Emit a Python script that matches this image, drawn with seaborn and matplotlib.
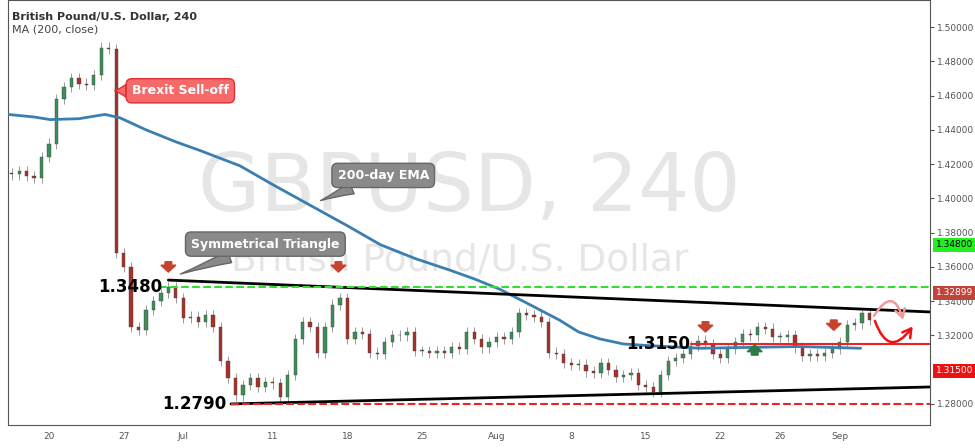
import numpy as np
import pandas as pd
import seaborn as sns
import matplotlib.pyplot as plt
from matplotlib.patches import FancyArrow

# 数据：半日K线收盘价（交易日序号，0 = 6月20日）
closes = [1.414, 1.416, 1.413, 1.412, 1.424, 1.432, 1.458, 1.465, 1.470, 1.467,
          1.466, 1.472, 1.488, 1.487, 1.368, 1.360, 1.325, 1.323, 1.335, 1.340,
          1.345, 1.348, 1.342, 1.330, 1.331, 1.328, 1.332, 1.325, 1.305, 1.295,
          1.285, 1.291, 1.295, 1.290, 1.293, 1.292, 1.284, 1.297, 1.318, 1.328,
          1.325, 1.310, 1.325, 1.338, 1.342, 1.318, 1.322, 1.321, 1.310, 1.309,
          1.316, 1.320, 1.320, 1.322, 1.311, 1.311, 1.310, 1.311, 1.310, 1.313,
          1.312, 1.322, 1.318, 1.313, 1.316, 1.319, 1.318, 1.322, 1.333, 1.332,
          1.331, 1.328, 1.310, 1.309, 1.304, 1.303, 1.303, 1.299, 1.298, 1.304,
          1.300, 1.296, 1.297, 1.298, 1.291, 1.290, 1.287, 1.297, 1.305, 1.307,
          1.309, 1.314, 1.317, 1.315, 1.309, 1.307, 1.312, 1.316, 1.321, 1.320,
          1.325, 1.324, 1.319, 1.319, 1.320, 1.313, 1.308, 1.309, 1.308, 1.310,
          1.312, 1.316, 1.326, 1.327, 1.333, 1.329]
first_open = 1.415
start_day = -2.5

ma_days = [-2.75, -1.0, 0.07, 2.0, 3.75, 4.76, 6.5, 8.5, 10.1, 12.8, 15.0, 17.5,
           20.0, 22.2, 24.5, 26.9, 28.5, 30.2, 32.0, 34.2, 35.5, 36.9, 38.5, 40.3,
           43.6, 47.0, 50.3, 54.4]
ma_vals = [1.449, 1.4475, 1.446, 1.4465, 1.449, 1.447, 1.440, 1.433, 1.428, 1.419,
           1.408, 1.396, 1.384, 1.373, 1.365, 1.358, 1.353, 1.347, 1.339, 1.329,
           1.322, 1.318, 1.315, 1.314, 1.3125, 1.313, 1.3135, 1.3125]

tick_days = [0, 5, 9, 15, 20, 25, 30, 35, 40, 45, 49, 53]
tick_labels = ["20", "27", "Jul", "11", "18", "25", "Aug", "8", "15", "22", "26", "Sep"]
y_ticks = [1.28, 1.32, 1.34, 1.36, 1.38, 1.40, 1.42, 1.44, 1.46, 1.48, 1.50]

df = pd.DataFrame({"day": start_day + 0.5 * np.arange(len(closes)), "close": closes})
df["open"] = [first_open] + closes[:-1]
ma = pd.DataFrame({"day": ma_days, "ma": ma_vals})

sns.set_style("white")
plt.rcParams['font.family'] = ['DejaVu Sans']
fig = plt.figure(figsize=(9.75, 4.48), dpi=100)
ax = fig.add_axes([8 / 975, 23 / 448, 922 / 975, 425 / 448])
ax.set_xlim(-2.75, 59.05)
ax.set_ylim(1.2677, 1.5158)

# 水印
ax.text(0.5, 0.555, "GBPUSD, 240", transform=ax.transAxes, ha="center", va="center",
        fontsize=58, color="#e6e6e6", zorder=0)
ax.text(0.49, 0.385, "British Pound/U.S. Dollar", transform=ax.transAxes, ha="center",
        va="center", fontsize=27, color="#e6e6e6", zorder=0)

# K线
up = df["close"] >= df["open"]
hi = np.maximum(df["open"], df["close"]) + 0.003
lo = np.minimum(df["open"], df["close"]) - 0.003
ax.vlines(df["day"], lo, hi, color="#999999", lw=0.7, zorder=2)
ax.bar(df["day"], (df["close"] - df["open"]).abs().clip(lower=0.0004),
       bottom=np.minimum(df["open"], df["close"]), width=0.22,
       color=np.where(up, "#3d8f55", "#a8322a"), edgecolor="#444444", lw=0.3, zorder=3)

sns.lineplot(data=ma, x="day", y="ma", ax=ax, color="#3a7fb0", lw=2, zorder=4)

# 三角形与水平线
ax.plot([8, 59.05], [1.3523, 1.3337], color="black", lw=2, zorder=5)
ax.plot([12.2, 59.05], [1.2800, 1.2899], color="black", lw=2, zorder=5)
ax.plot([7.4, 59.05], [1.348, 1.348], color="#33dd33", lw=1.5, ls="--", zorder=5)
ax.plot([12.2, 59.05], [1.280, 1.280], color="#ee2222", lw=1.5, ls="--", zorder=5)
ax.plot([43, 59.05], [1.315, 1.315], color="#ee2222", lw=1.5, zorder=5)

bold = dict(fontsize=12, fontweight="bold", color="black", zorder=6)
ax.text(7.6, 1.3485, "1.3480", ha="right", va="center", **bold)
ax.text(11.9, 1.2800, "1.2790", ha="right", va="center", **bold)
ax.text(43, 1.3150, "1.3150", ha="right", va="center", **bold)

# 气泡标注
def bubble(x, y, txt, tx, ty, fc, ec):
    ax.annotate(txt, xy=(x, y), xytext=(tx, ty), ha="center", va="center",
                fontsize=9, fontweight="bold", color="white", zorder=7,
                bbox=dict(boxstyle="round,pad=0.45", fc=fc, ec=ec, lw=1),
                arrowprops=dict(arrowstyle="wedge,tail_width=1.0,shrink_factor=0.4",
                                fc=fc, ec=ec, lw=1, shrinkA=0, shrinkB=0))

bubble(4.4, 1.4628, "Brexit Sell-off", 8.8, 1.4628, "#f76a6a", "#e03030")
bubble(18.2, 1.3987, "200-day EMA", 22.4, 1.4134, "#8a8a8a", "#666666")
bubble(8.8, 1.3558, "Symmetrical Triangle", 14.5, 1.3733, "#8a8a8a", "#666666")

# 箭头
for d, p in [(8, 1.3570), (19.4, 1.3570), (44, 1.3220), (52.6, 1.3230)]:
    ax.add_patch(FancyArrow(d, p + 0.006, 0, -0.006, width=0.45, head_width=1.0,
                            head_length=0.004, length_includes_head=True,
                            fc="#c8432e", ec="#c8432e", zorder=8))
ax.add_patch(FancyArrow(47.3, 1.3085, 0, 0.006, width=0.45, head_width=1.0,
                        head_length=0.004, length_includes_head=True,
                        fc="#2f7a45", ec="#2f7a45", zorder=8))

ax.annotate("", xy=(57.3, 1.3275), xytext=(55.2, 1.3300), zorder=8,
            arrowprops=dict(arrowstyle="->,head_width=0.35,head_length=0.6",
                            color="#f09a9a", lw=1.8, connectionstyle="arc3,rad=-1.2"))
ax.annotate("", xy=(58.0, 1.3265), xytext=(55.3, 1.3300), zorder=8,
            arrowprops=dict(arrowstyle="->,head_width=0.35,head_length=0.6",
                            color="#ee1111", lw=1.8, connectionstyle="arc3,rad=1.0"))

# 坐标轴
ax.set_xticks(tick_days)
ax.set_xticklabels(tick_labels)
ax.yaxis.tick_right()
ax.set_yticks(y_ticks)
ax.set_yticklabels([f"{v:.5f}" for v in y_ticks])
ax.tick_params(axis="both", labelsize=6.5, colors="#555555", length=3, pad=2)
ax.set_xlabel("")
ax.set_ylabel("")
for s in ax.spines.values():
    s.set_color("#555555")

# 右侧价格标签
for val, txt, fc in [(1.3728, "1.34800", "#22ee22"), (1.3448, "1.32899", "#c0443a"),
                     (1.2993, "1.31500", "#ee1111")]:
    ax.annotate(txt, xy=(1.0, val), xycoords=("axes fraction", "data"),
                xytext=(4, 0), textcoords="offset points", va="center", fontsize=6.5,
                color="black" if fc == "#22ee22" else "white",
                bbox=dict(boxstyle="square,pad=0.25", fc=fc, ec="none"))

fig.text(12 / 975, 1 - 17 / 448, "British Pound/U.S. Dollar, 240", fontsize=8,
         fontweight="bold", color="#333333", va="center")
fig.text(12 / 975, 1 - 30 / 448, "MA (200, close)", fontsize=8, color="#444444",
         va="center")

fig.savefig("out.png", dpi=100)
